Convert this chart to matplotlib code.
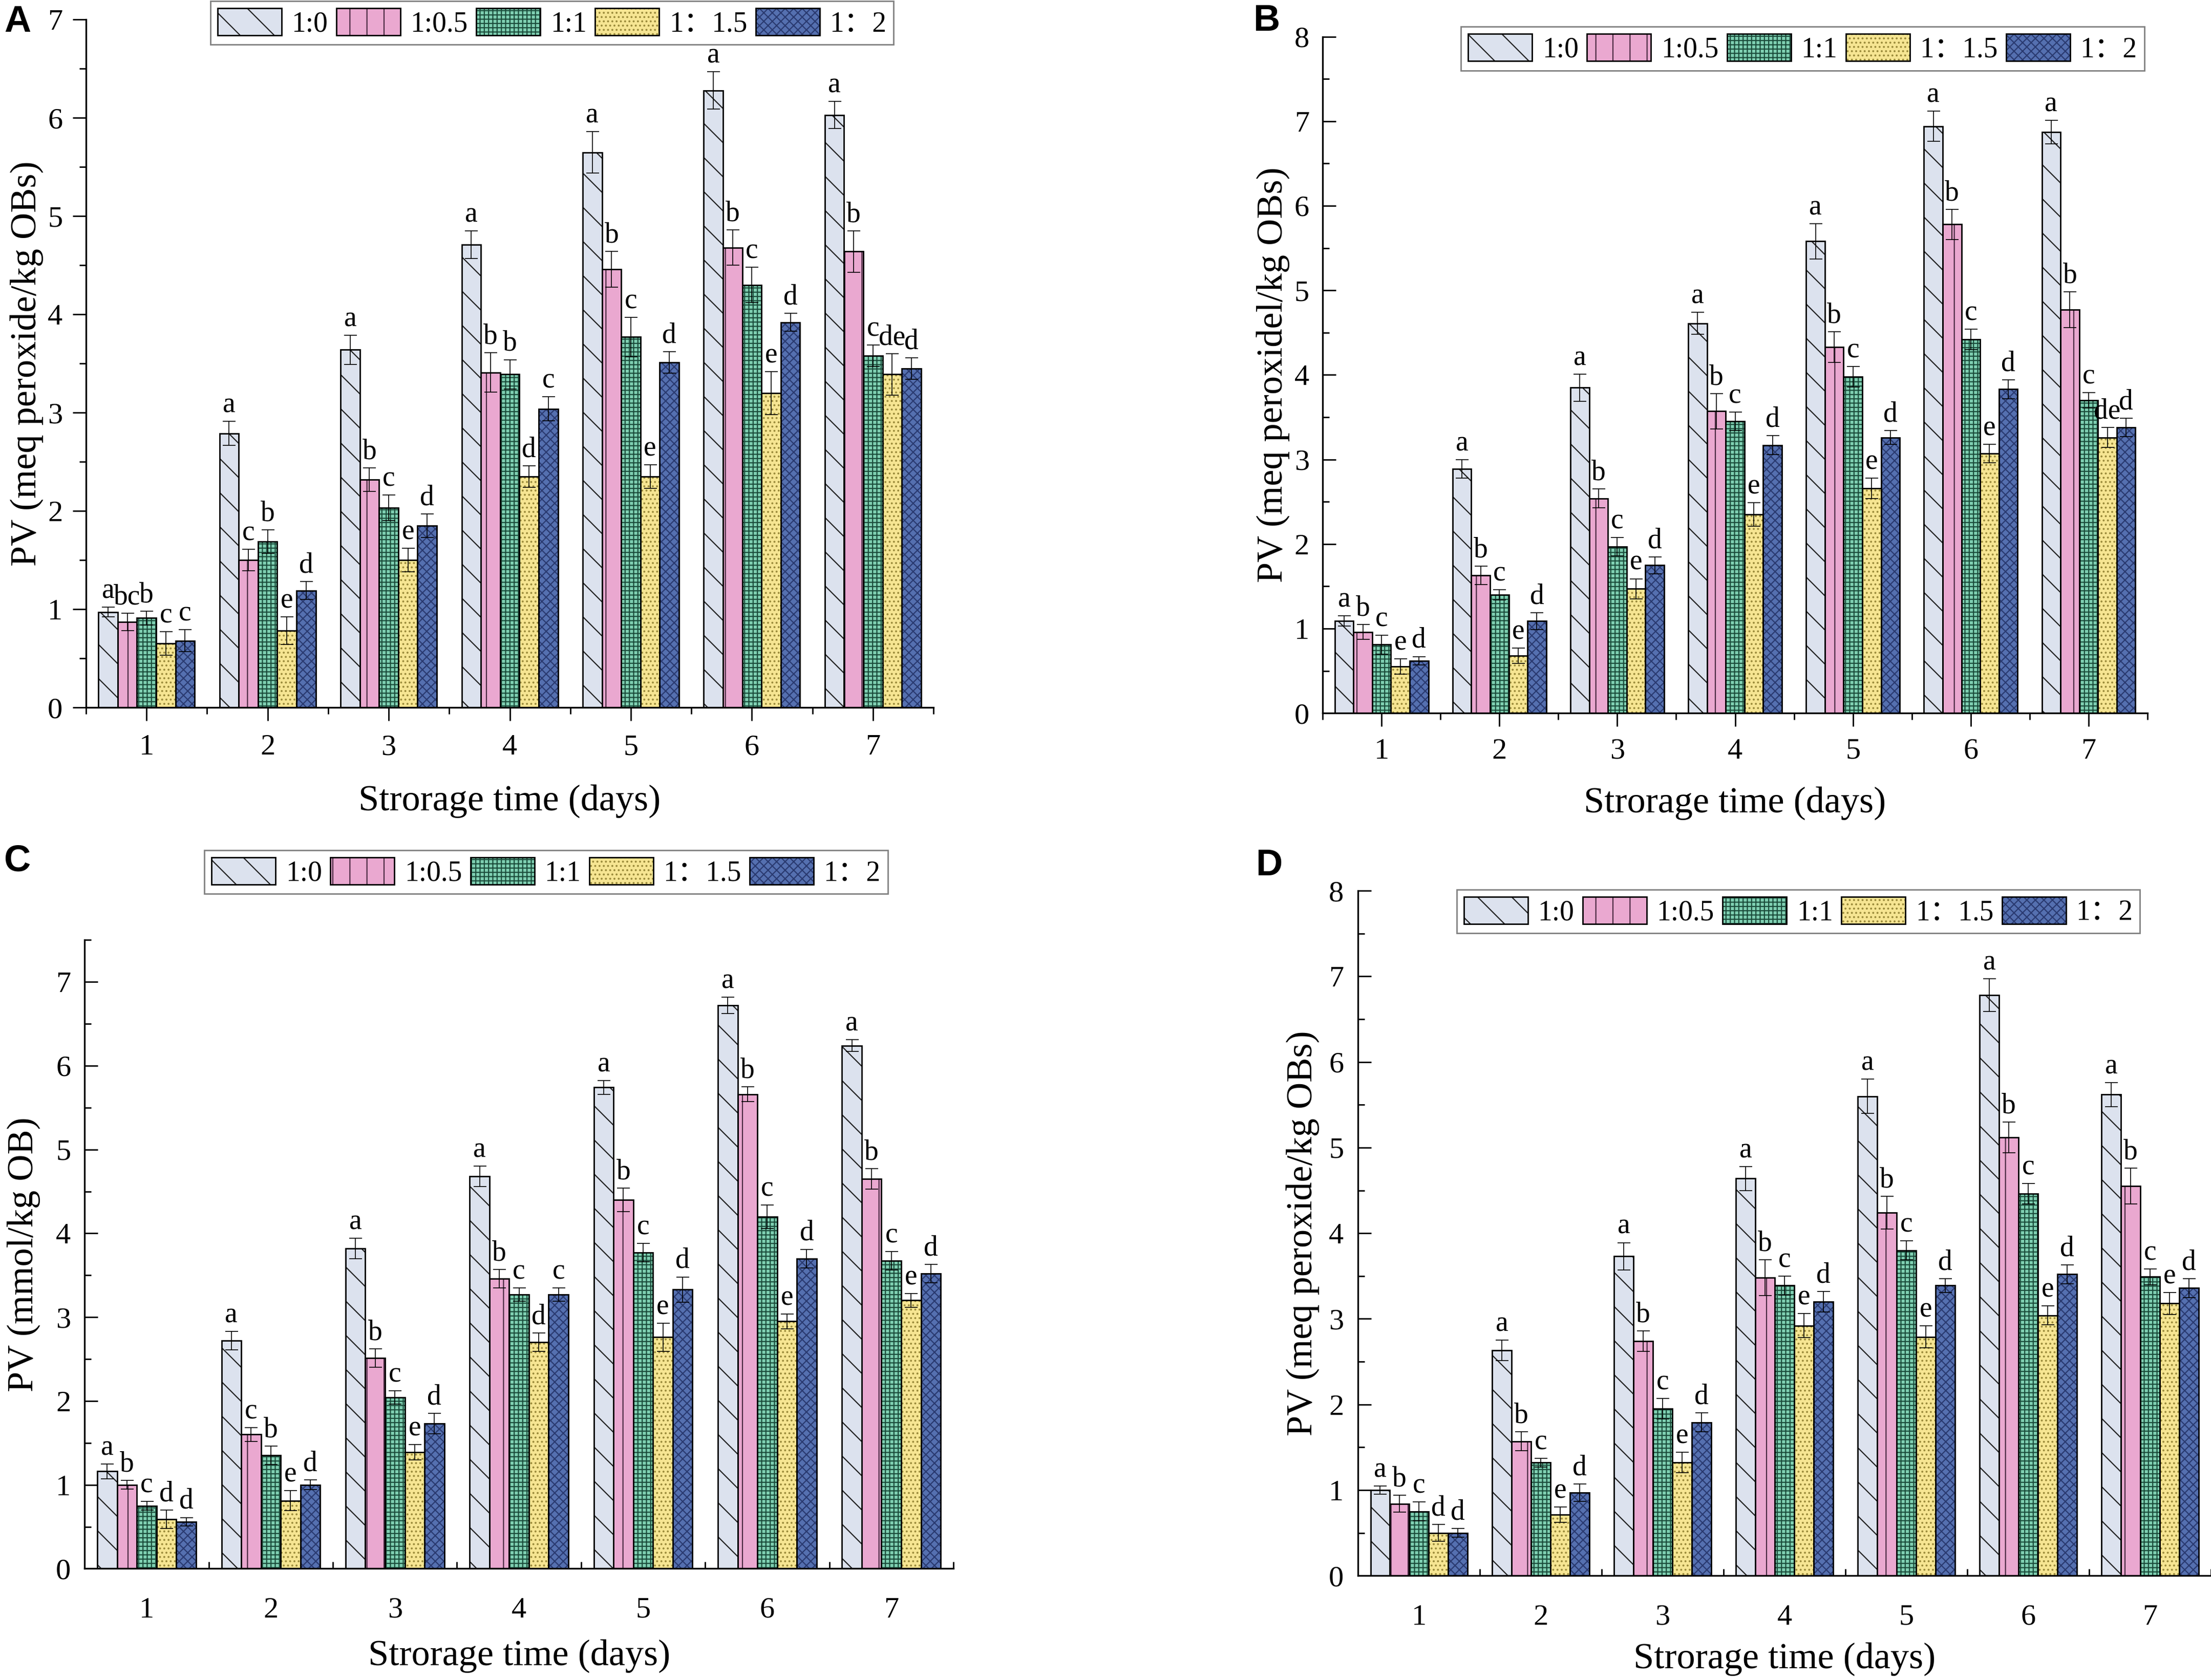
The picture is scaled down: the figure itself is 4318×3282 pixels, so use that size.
import numpy as np
import matplotlib
matplotlib.use('Agg')
import matplotlib.pyplot as plt
from matplotlib.patches import Patch
from matplotlib.ticker import MultipleLocator, FixedLocator

plt.rcParams['font.family'] = ['Liberation Serif', 'Noto Sans CJK SC', 'DejaVu Sans']
plt.rcParams['hatch.linewidth'] = 0.8

days = [1, 2, 3, 4, 5, 6, 7]
ratios = ['1:0', '1:0.5', '1:1', '1\uff1a1.5', '1\uff1a2']
xlabel = 'Strorage time (days)'

# panel A  (rows = ratio, columns = day)
A_mean = [[0.97, 2.79, 3.64, 4.71, 5.65, 6.28, 6.03],
          [0.87, 1.50, 2.32, 3.41, 4.46, 4.68, 4.64],
          [0.91, 1.69, 2.03, 3.39, 3.77, 4.30, 3.58],
          [0.65, 0.78, 1.50, 2.35, 2.35, 3.20, 3.39],
          [0.68, 1.19, 1.85, 3.04, 3.51, 3.92, 3.45]]
A_err = [[0.05, 0.12, 0.15, 0.14, 0.21, 0.19, 0.14],
         [0.09, 0.11, 0.12, 0.20, 0.18, 0.18, 0.21],
         [0.07, 0.12, 0.13, 0.15, 0.20, 0.18, 0.11],
         [0.12, 0.14, 0.12, 0.11, 0.12, 0.22, 0.21],
         [0.11, 0.09, 0.12, 0.12, 0.11, 0.09, 0.11]]
A_sig = [['a', 'a', 'a', 'a', 'a', 'a', 'a'],
         ['bc', 'c', 'b', 'b', 'b', 'b', 'b'],
         ['b', 'b', 'c', 'b', 'c', 'c', 'c'],
         ['c', 'e', 'e', 'd', 'e', 'e', 'de'],
         ['c', 'd', 'd', 'c', 'd', 'd', 'd']]

# panel B
B_mean = [[1.09, 2.89, 3.85, 4.61, 5.58, 6.94, 6.87],
          [0.96, 1.63, 2.54, 3.57, 4.33, 5.78, 4.77],
          [0.81, 1.40, 1.97, 3.45, 3.98, 4.42, 3.70],
          [0.55, 0.68, 1.47, 2.35, 2.66, 3.07, 3.26],
          [0.62, 1.09, 1.75, 3.17, 3.26, 3.83, 3.38]]
B_err = [[0.06, 0.11, 0.16, 0.13, 0.21, 0.18, 0.14],
         [0.09, 0.11, 0.11, 0.21, 0.18, 0.18, 0.21],
         [0.11, 0.06, 0.11, 0.11, 0.12, 0.12, 0.09],
         [0.09, 0.09, 0.12, 0.14, 0.12, 0.11, 0.12],
         [0.05, 0.10, 0.10, 0.11, 0.08, 0.11, 0.11]]
B_sig = [['a', 'a', 'a', 'a', 'a', 'a', 'a'],
         ['b', 'b', 'b', 'b', 'b', 'b', 'b'],
         ['c', 'c', 'c', 'c', 'c', 'c', 'c'],
         ['e', 'e', 'e', 'e', 'e', 'e', 'de'],
         ['d', 'd', 'd', 'd', 'd', 'd', 'd']]

# panel C
C_mean = [[1.16, 2.72, 3.82, 4.68, 5.74, 6.72, 6.24],
          [1.00, 1.60, 2.51, 3.46, 4.40, 5.66, 4.65],
          [0.75, 1.35, 2.04, 3.27, 3.77, 4.20, 3.67],
          [0.59, 0.81, 1.39, 2.70, 2.76, 2.95, 3.20],
          [0.56, 1.00, 1.73, 3.27, 3.33, 3.70, 3.52]]
C_err = [[0.09, 0.11, 0.12, 0.12, 0.08, 0.10, 0.07],
         [0.05, 0.08, 0.11, 0.11, 0.14, 0.09, 0.12],
         [0.05, 0.11, 0.08, 0.08, 0.11, 0.14, 0.11],
         [0.11, 0.12, 0.09, 0.11, 0.17, 0.09, 0.08],
         [0.05, 0.06, 0.12, 0.08, 0.15, 0.11, 0.11]]
C_sig = [['a', 'a', 'a', 'a', 'a', 'a', 'a'],
         ['b', 'c', 'b', 'b', 'b', 'b', 'b'],
         ['c', 'b', 'c', 'c', 'c', 'c', 'c'],
         ['d', 'e', 'e', 'd', 'e', 'e', 'e'],
         ['d', 'd', 'd', 'c', 'd', 'd', 'd']]

# panel D
D_mean = [[1.00, 2.63, 3.73, 4.64, 5.60, 6.78, 5.62],
          [0.84, 1.57, 2.74, 3.48, 4.24, 5.12, 4.55],
          [0.75, 1.32, 1.95, 3.39, 3.80, 4.46, 3.49],
          [0.50, 0.71, 1.32, 2.92, 2.79, 3.04, 3.18],
          [0.50, 0.97, 1.79, 3.20, 3.39, 3.52, 3.36]]
D_err = [[0.05, 0.12, 0.16, 0.14, 0.20, 0.19, 0.14],
         [0.10, 0.11, 0.12, 0.21, 0.19, 0.18, 0.21],
         [0.11, 0.05, 0.12, 0.11, 0.11, 0.12, 0.09],
         [0.10, 0.09, 0.12, 0.14, 0.13, 0.11, 0.13],
         [0.05, 0.10, 0.11, 0.12, 0.08, 0.11, 0.11]]
D_sig = [['a', 'a', 'a', 'a', 'a', 'a', 'a'],
         ['b', 'b', 'b', 'b', 'b', 'b', 'b'],
         ['c', 'c', 'c', 'c', 'c', 'c', 'c'],
         ['d', 'e', 'e', 'e', 'e', 'e', 'e'],
         ['d', 'd', 'd', 'd', 'd', 'd', 'd']]

# bar styles
faces = ['#dce2ee', '#eaa8d0', '#7fd0b2', '#f6e592', '#5570b0']
hatches = ['\\', '|', '++++', '....', 'xxxx']
hcolors = ['#222222', '#4a2a42', '#1c4d3c', '#9a8a3a', '#2a3a70']
bw = 0.159


def panel(ax, means, errs, sigs, ylabel, ymax, xdir, ydir, xpad, ypad,
          ylab_x, xlab_y, leg_xy):
    x0 = np.array(days, dtype=float)
    for i in range(5):
        x = x0 + (i - 2) * bw
        ax.bar(x, means[i], bw, color=faces[i], hatch=hatches[i],
               edgecolor=hcolors[i], linewidth=0, zorder=2)
        ax.bar(x, means[i], bw, fill=False, edgecolor='black', linewidth=1.0, zorder=3)
        ax.errorbar(x, means[i], yerr=errs[i], fmt='none', ecolor='black',
                    elinewidth=0.6, capsize=4.5, capthick=0.6, zorder=4)
        for xi, m, e, s in zip(x, means[i], errs[i], sigs[i]):
            ax.annotate(s, (xi, m + e), xytext=(0, 2), textcoords='offset points',
                        ha='center', va='bottom', fontsize=20, zorder=5)

    ax.set_xlim(0.5, 7.5)
    ax.set_ylim(0, ymax)
    ax.set_xticks(days)
    ax.xaxis.set_minor_locator(FixedLocator(np.arange(0.5, 8, 1)))
    ax.yaxis.set_major_locator(MultipleLocator(1))
    ax.yaxis.set_minor_locator(MultipleLocator(0.5))
    for s in ['top', 'right']:
        ax.spines[s].set_visible(False)
    for s in ['left', 'bottom']:
        ax.spines[s].set_linewidth(1.2)
    ax.tick_params(axis='x', which='both', direction=xdir, width=1.0, labelsize=21, pad=xpad)
    ax.tick_params(axis='y', which='both', direction=ydir, width=1.0, labelsize=21, pad=ypad)
    ax.tick_params(which='major', length=9.4)
    ax.tick_params(which='minor', length=4.7)

    ax.set_xlabel(xlabel, fontsize=26)
    ax.set_ylabel(ylabel, fontsize=26)
    ax.xaxis.set_label_coords(0.5, xlab_y)
    ax.yaxis.set_label_coords(ylab_x, 0.5)

    handles = []
    for i in range(5):
        p1 = Patch(facecolor=faces[i], hatch=hatches[i], edgecolor=hcolors[i], linewidth=0)
        p2 = Patch(fill=False, edgecolor='black', linewidth=1.0)
        handles.append((p1, p2))
    leg = ax.legend(handles, ratios, loc='upper left', bbox_to_anchor=leg_xy,
                    bbox_transform=fig.transFigure, ncol=5, fontsize=20,
                    handlelength=2.25, handleheight=1.1, handletextpad=0.35,
                    columnspacing=0.3, borderpad=0.25, borderaxespad=0,
                    fancybox=False, edgecolor='#808080', framealpha=1)
    leg.get_frame().set_linewidth(1.0)


fig = plt.figure(figsize=(21.59, 16.41), dpi=200)

axA = fig.add_axes([0.0389, 0.5789, 0.3833, 0.4094])
axB = fig.add_axes([0.5982, 0.5755, 0.3731, 0.4027])
axC = fig.add_axes([0.0383, 0.0663, 0.3929, 0.3742])
axD = fig.add_axes([0.6142, 0.0621, 0.3858, 0.4077])

panel(axA, A_mean, A_err, A_sig, 'PV (meq peroxide/kg OBs)', 7, 'out', 'out', 9.4, 7,
      -0.050, -0.112, (0.0952, 0.9994))
panel(axB, B_mean, B_err, B_sig, 'PV (meq peroxidel/kg OBs)', 8, 'out', 'in', 8, 9.4,
      -0.040, -0.108, (0.6608, 0.9841))
panel(axC, C_mean, C_err, C_sig, 'PV (mmol/kg OB)', 7.5, 'in', 'in', 20, 9.7,
      -0.051, -0.112, (0.0925, 0.4939))
panel(axD, D_mean, D_err, D_sig, 'PV (meq peroxide/kg OBs)', 8, 'in', 'in', 20, 10,
      -0.045, -0.097, (0.6589, 0.4705))

for lab, x, y in [('A', 0.008, 0.987), ('B', 0.5727, 0.9874),
                  ('C', 0.008, 0.4874), ('D', 0.574, 0.4849)]:
    fig.text(x, y, lab, fontfamily='Liberation Sans', fontweight='bold',
             fontsize=26, ha='center', va='center')

fig.savefig('out.png', dpi=200)
